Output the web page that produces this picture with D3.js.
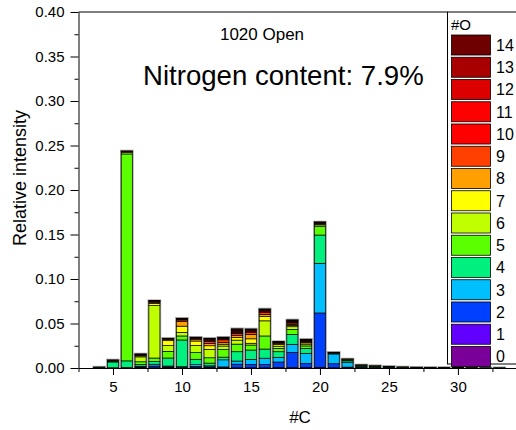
<!DOCTYPE html>
<html>
<head>
<meta charset="utf-8">
<script src="https://cdn.jsdelivr.net/npm/d3@7"></script>
<style>
  body { margin: 0; background: #fff; }
  svg { display: block; font-family: Arial, "Liberation Sans", sans-serif; }
</style>
</head>
<body>
<script>
// carbon numbers on the x axis
const carbons = d3.range(4, 34);

// relative intensity for each oxygen number, one value per carbon (C4..C33)
const O0  = [0,0,0,0,0,0,0,0,0,0,0,0,0,0,0,0,0,0,0,0,0,0,0,0,0,0,0,0,0,0];
const O1  = [0,0,0,.0002,.0002,.0002,0,.0003,.0003,.0002,.0003,.0003,.0003,.0004,.0004,.0005,.0008,.0003,.0002,.0002,0,0,0,0,0,0,0,0,0,0];
const O2  = [.0002,0,0,.0008,.002,.001,.0005,.0015,.001,.001,.004,.0037,.0037,.0063,.0172,.0045,.061,.0045,.0008,.0006,.0004,.0003,.0002,.0002,.0001,.0001,0,0,0,0];
const O3  = [.0003,.0003,.0005,.001,.002,.001,.001,.002,.0012,.008,.0035,.0057,.007,.0053,.009,.0115,.0558,.011,.005,.0008,.0006,.0005,.0003,.0002,.0002,.0001,.0001,.0001,.0001,.0001];
const O4  = [.0003,.0065,.0075,.002,.003,.009,.03,.006,.003,.003,.0105,.0105,.0103,.0063,.0112,.0055,.0318,.0008,.002,.0007,.0006,.0004,.0003,.0002,.0001,.0001,.0001,.0001,.0001,.0001];
const O5  = [.0002,.0008,.2325,.003,.004,.0075,.0045,.0075,.006,.0085,.0085,.0056,.0147,.0037,.0056,.0028,.0094,.0004,.001,.0005,.0004,.0003,.0002,.0001,.0001,.0001,.0001,.0001,0,0];
const O6  = [0,.0006,.0015,.0055,.059,.0065,.004,.008,.0095,.004,.0045,.002,.017,.0025,.003,.002,.002,.0002,.0006,.0003,.0003,.0002,.0001,.0001,.0001,.0001,.0001,0,0,0];
const O7  = [0,.0004,.0008,.0012,.0025,.0055,.007,.005,.004,.002,.003,.005,.0047,.002,.0015,.0015,.001,.0002,.0003,.0002,.0002,.0001,0,0,0,0,0,0,0,0];
const O8  = [0,.0002,.0005,.0008,.0012,.0015,.0055,.002,.0027,.002,.0025,.005,.0025,.001,.0012,.001,.0008,.0001,.0002,.0001,0,0,0,0,0,0,0,0,0,0];
const O9  = [0,.0002,.0003,.0006,.0008,.0006,.0015,.001,.002,.003,.002,.002,.002,.0008,.0015,.001,.0006,.0001,0,0,0,0,0,0,0,0,0,0,0,0];
const O10 = [0,0,.0002,.0003,.0005,.0003,.0008,.0006,.0012,.001,.0012,.0012,.0013,.0005,.001,.0006,.0003,0,0,0,0,0,0,0,0,0,0,0,0,0];
const O11 = [0,0,0,.0002,.0002,.0001,.0005,.0003,.001,.0008,.0012,.001,.001,.0003,.0008,.0005,.0002,0,0,0,0,0,0,0,0,0,0,0,0,0];
const O12 = [0,0,0,.0001,.0001,.0001,.0003,.0002,.0008,.0005,.001,.0008,.0008,.0002,.0006,.0004,.0002,0,0,0,0,0,0,0,0,0,0,0,0,0];
const O13 = [0,0,0,0,.0001,0,.0001,.0001,.0004,.0003,.001,.0005,.0005,.0002,.0006,.0002,.0001,0,0,0,0,0,0,0,0,0,0,0,0,0];
const O14 = [0,0,0,0,0,0,.0001,0,.0002,.0002,.0008,.0005,.0005,.0001,.0004,.0002,0,0,0,0,0,0,0,0,0,0,0,0,0,0];

const oxygenLabels = d3.range(0, 15);
const oxygenColors = ["#7b0099","#6200ff","#0040ff","#00bfff","#00f080","#5cff00",
  "#bfff00","#ffff00","#ffa000","#ff4000","#ff0000","#ff0000","#dd0000","#a80000","#6e0000"];
const series = [O0,O1,O2,O3,O4,O5,O6,O7,O8,O9,O10,O11,O12,O13,O14];

const xMajor = [5, 10, 15, 20, 25, 30];
const xMinor = [2.5, 7.5, 12.5, 17.5, 22.5, 27.5, 32.5];
const yMajor = [0, 0.05, 0.10, 0.15, 0.20, 0.25, 0.30, 0.35, 0.40];
const yMinor = [0.025, 0.075, 0.125, 0.175, 0.225, 0.275, 0.325, 0.375];

// table the stack layout needs
const table = carbons.map((c, i) => {
  const row = {c: c};
  oxygenLabels.forEach(o => row[o] = series[o][i]);
  return row;
});

const W = 516, H = 430;
const svg = d3.select("body").append("svg").attr("width", W).attr("height", H);

const x = d3.scaleLinear().domain([2.5, 34.5]).range([78.5, 520]);
const y = d3.scaleLinear().domain([0, 0.4]).range([368, 12]);

const stacked = d3.stack().keys(oxygenLabels)(table);
const barW = (x(1) - x(0)) * 0.8;

// grey outline round every bar
svg.append("g").selectAll("rect")
  .data(table)
  .join("rect")
  .attr("x", d => x(d.c) - barW / 2 - 0.5)
  .attr("y", d => y(d3.sum(oxygenLabels, o => d[o])) - 0.5)
  .attr("width", barW + 1)
  .attr("height", d => y(0) - y(d3.sum(oxygenLabels, o => d[o])) + 0.5)
  .attr("fill", "none")
  .attr("stroke", "#999")
  .attr("stroke-width", 1.5);

// stacked segments
svg.append("g").selectAll("g")
  .data(stacked)
  .join("g")
  .attr("fill", s => oxygenColors[s.key])
  .selectAll("rect")
  .data(s => s.filter(d => d[1] - d[0] > 0))
  .join("rect")
  .attr("x", d => x(d.data.c) - barW / 2)
  .attr("y", d => y(d[1]))
  .attr("width", barW)
  .attr("height", d => y(d[0]) - y(d[1]))
  .attr("stroke", "#000")
  .attr("stroke-width", 0.7);

// axes
const yAxis = svg.append("g").attr("transform", "translate(78.5,0)");
yAxis.call(d3.axisLeft(y).tickValues(yMajor).tickSize(8).tickSizeOuter(0).tickFormat(d3.format(".2f")));
yAxis.append("g").call(d3.axisLeft(y).tickValues(yMinor).tickSize(4).tickFormat(""))
  .select(".domain").remove();
yAxis.selectAll("text").attr("font-size", 15).attr("fill", "#000").attr("dx", -3);
yAxis.selectAll("line, path").attr("stroke", "#000");

const xAxis = svg.append("g").attr("transform", "translate(0,368)");
xAxis.call(d3.axisBottom(x).tickValues(xMajor).tickSize(7).tickSizeOuter(0));
xAxis.append("g").call(d3.axisBottom(x).tickValues(xMinor).tickSize(4).tickFormat(""))
  .select(".domain").remove();
xAxis.selectAll("text").attr("font-size", 15).attr("fill", "#000").attr("dy", "0.95em");
xAxis.selectAll("line, path").attr("stroke", "#000");

// top frame line
svg.append("line")
  .attr("x1", 78.5).attr("x2", 447.5)
  .attr("y1", 12).attr("y2", 12)
  .attr("stroke", "#000");

// axis titles
svg.append("text")
  .attr("transform", "translate(26,178) rotate(-90)")
  .attr("text-anchor", "middle")
  .attr("font-size", 18)
  .text("Relative intensity");

svg.append("text")
  .attr("x", 300).attr("y", 423)
  .attr("text-anchor", "middle")
  .attr("font-size", 17)
  .text("#C");

// annotations
svg.append("text")
  .attr("x", 262).attr("y", 40)
  .attr("text-anchor", "middle")
  .attr("font-size", 17)
  .text("1020 Open");

svg.append("text")
  .attr("x", 143).attr("y", 85)
  .attr("font-size", 27.6)
  .text("Nitrogen content: 7.9%");

// legend
const legend = svg.append("g");
legend.append("rect")
  .attr("x", 447.5).attr("y", 12)
  .attr("width", 80).attr("height", 352)
  .attr("fill", "#fff")
  .attr("stroke", "#000");

legend.append("text")
  .attr("x", 451).attr("y", 30)
  .attr("font-size", 15)
  .text("#O");

const legendOrder = oxygenLabels.slice().reverse();
const ly = d3.scaleBand().domain(legendOrder).range([35, 366.5]).paddingInner(0.1);

legend.selectAll(".sw")
  .data(legendOrder)
  .join("rect")
  .attr("class", "sw")
  .attr("x", 451.5)
  .attr("y", o => ly(o))
  .attr("width", 39)
  .attr("height", ly.bandwidth())
  .attr("fill", o => oxygenColors[o])
  .attr("stroke", "#000")
  .attr("stroke-width", 0.8);

legend.selectAll(".lb")
  .data(legendOrder)
  .join("text")
  .attr("class", "lb")
  .attr("x", 496)
  .attr("y", o => ly(o) + ly.bandwidth() / 2)
  .attr("dy", "0.36em")
  .attr("font-size", 16)
  .text(o => o);
</script>
</body>
</html>
